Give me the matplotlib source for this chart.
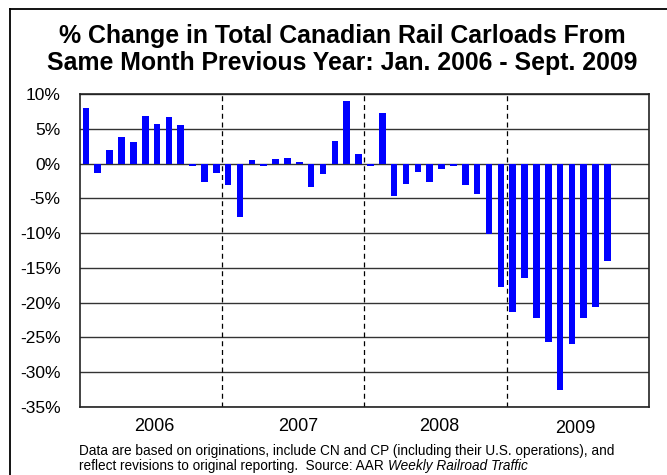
import matplotlib
matplotlib.use("Agg")
import matplotlib.pyplot as plt
from matplotlib.lines import Line2D

plt.rcParams['font.family'] = ['Liberation Sans', 'DejaVu Sans']

# Monthly % change, Jan 2006 - Sep 2009
values_2006 = [8.0, -1.4, 2.0, 3.8, 3.1, 6.9, 5.7, 6.7, 5.5, -0.4, -2.7, -1.3]
values_2007 = [-3.1, -7.7, 0.5, -0.3, 0.6, 0.8, 0.2, -3.4, -1.5, 3.3, 9.0, 1.4]
values_2008 = [-0.3, 7.2, -4.7, -2.9, -1.2, -2.6, -0.8, -0.3, -3.1, -4.4, -10.1, -17.8]
values_2009 = [-21.3, -16.5, -22.2, -25.7, -32.6, -25.9, -22.2, -20.6, -14.0]
years = ["2006", "2007", "2008", "2009"]
y_ticks = [10, 5, 0, -5, -10, -15, -20, -25, -30, -35]

values = values_2006 + values_2007 + values_2008 + values_2009

W, H = 667, 475
fig = plt.figure(figsize=(W / 100, H / 100), dpi=100)
ax = fig.add_axes([80 / W, 1 - 407 / H, (649 - 80) / W, (407 - 94) / H])

x = list(range(len(values)))
ax.bar(x, values, width=0.56, color='#0000FF', zorder=3)

ax.set_xlim(-0.5, 47.5)
ax.set_ylim(-35, 10)
ax.set_yticks(y_ticks)
ax.set_yticklabels([f"{t}%" for t in y_ticks], fontsize=12.5)
ax.tick_params(axis='y', length=0, pad=14)
ax.yaxis.grid(True, color='#333333', linewidth=1.0, zorder=1)

# year labels
year_pos = [5.8, 17.9, 29.8, 41.3]
ax.set_xticks(year_pos)
ax.set_xticklabels(years, fontsize=13)
ax.tick_params(axis='x', length=0, pad=8)
for lab in ax.get_xticklabels()[3:]:
    lab.set_y(-0.005)

for b in [11.5, 23.5, 35.5]:
    ax.axvline(b, color='black', linestyle=(0, (4, 3)), linewidth=0.9, zorder=2)

for s in ax.spines.values():
    s.set_color('#222222')
    s.set_linewidth(1.2)

# title
fig.text(342 / W, 1 - 42.7 / H, "% Change in Total Canadian Rail Carloads From",
         ha='center', va='baseline', fontsize=17.9, fontweight='bold')
fig.text(342 / W, 1 - 70 / H, "Same Month Previous Year: Jan. 2006 - Sept. 2009",
         ha='center', va='baseline', fontsize=17.9, fontweight='bold')

# footnote
fig.text(79 / W, 1 - 455 / H,
         "Data are based on originations, include CN and CP (including their U.S. operations), and",
         ha='left', va='baseline', fontsize=9.85)
t1 = fig.text(79 / W, 1 - 470 / H,
              "reflect revisions to original reporting.  Source: AAR ",
              ha='left', va='baseline', fontsize=9.85)
fig.canvas.draw()
bb = t1.get_window_extent()
fig.text(bb.x1 / W, 1 - 470 / H, "Weekly Railroad Traffic",
         ha='left', va='baseline', fontsize=9.85, style='italic')

# outer frame (top and left)
fig.add_artist(Line2D([10 / W, 1.0], [1 - 9 / H, 1 - 9 / H], color='black', linewidth=1.3,
                      transform=fig.transFigure))
fig.add_artist(Line2D([10 / W, 10 / W], [0, 1 - 9 / H], color='black', linewidth=1.3,
                      transform=fig.transFigure))

fig.savefig("out.png", dpi=100)
